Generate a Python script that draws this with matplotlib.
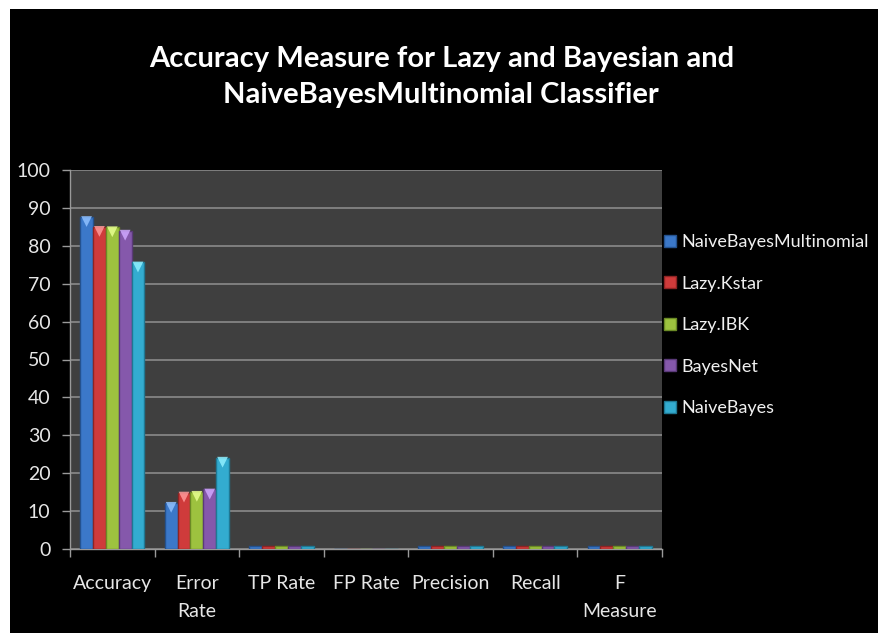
import matplotlib
matplotlib.use("Agg")
import matplotlib.pyplot as plt
import numpy as np
from matplotlib.patches import Rectangle

categories = ["Accuracy", "Error\nRate", "TP Rate", "FP Rate", "Precision", "Recall", "F\nMeasure"]
series_names = ["NaiveBayesMultinomial", "Lazy.Kstar", "Lazy.IBK", "BayesNet", "NaiveBayes"]
nbm = [87.6, 12.2, 0.88, 0.03, 0.88, 0.88, 0.87]
kstar = [85.0, 14.9, 0.85, 0.03, 0.86, 0.85, 0.85]
ibk = [84.9, 15.1, 0.85, 0.03, 0.86, 0.85, 0.85]
bayesnet = [84.0, 15.7, 0.84, 0.03, 0.86, 0.84, 0.84]
naivebayes = [75.6, 24.1, 0.76, 0.05, 0.86, 0.76, 0.77]
yticks = [0, 10, 20, 30, 40, 50, 60, 70, 80, 90, 100]

series = [nbm, kstar, ibk, bayesnet, naivebayes]
colors = ["#3b78c9", "#cf3b3b", "#9dc23f", "#8558ab", "#33acd0"]
edges = ["#24528f", "#8e2424", "#6b8a25", "#5a3a78", "#1f7893"]
lights = ["#8fc0ff", "#ff9a9a", "#e8ff90", "#d0a8ff", "#90f0ff"]

plt.rcParams['font.family'] = ['Lato', 'DejaVu Sans']

W, H = 879, 633
fig = plt.figure(figsize=(W / 100, H / 100), dpi=100, facecolor="white")
fig.patches.append(Rectangle((10 / W, 0), 1 - 10 / W, 1 - 9 / H, transform=fig.transFigure,
                             facecolor="black", edgecolor="none", zorder=-10))

ax = fig.add_axes([70 / W, 1 - 549 / H, (662 - 70) / W, (549 - 170) / H])
ax.set_facecolor("#3f3f3f")

x = np.arange(len(categories))
bw = 0.152
for i, (vals, c, e, l, name) in enumerate(zip(series, colors, edges, lights, series_names)):
    pos = x + (i - 2) * bw
    ax.bar(pos, vals, width=bw, color=c, edgecolor=e, linewidth=1.0, label=name, zorder=3)
    tall = [v for v in vals if v > 5]
    tpos = [p for p, v in zip(pos, vals) if v > 5]
    ax.scatter(tpos, [v - 1.2 for v in tall], marker="v", s=60, color=l, edgecolor="none",
               alpha=0.85, zorder=4)

ax.set_xlim(-0.5, len(categories) - 0.5)
ax.set_ylim(0, 100)
ax.set_yticks(yticks)
ax.set_yticklabels([str(t) for t in yticks])
ax.set_xticks(x)
ax.set_xticklabels(categories, linespacing=1.75)
ax.set_xticks(np.arange(len(categories) + 1) - 0.5, minor=True)
ax.tick_params(axis="x", which="major", length=0, pad=19, labelsize=14, labelcolor="#e6e6e6")
ax.tick_params(axis="x", which="minor", length=6, width=1, color="#9a9a9a", direction="out")
ax.tick_params(axis="y", length=6, width=1, color="#9a9a9a", pad=8, labelsize=14, labelcolor="#e6e6e6")
ax.grid(axis="y", color="#8a8a8a", linewidth=1.2, zorder=0)
ax.set_axisbelow(True)
for s in ["top", "right"]:
    ax.spines[s].set_visible(False)
for s in ["left", "bottom"]:
    ax.spines[s].set_color("#9a9a9a")
    ax.spines[s].set_linewidth(1)

leg = fig.legend(loc="upper left", bbox_to_anchor=(657 / W, 1 - 227 / H), frameon=False,
                 fontsize=13, labelcolor="#f0f0f0", handlelength=0.65, handleheight=0.65,
                 handletextpad=0.3, labelspacing=1.41, borderaxespad=0)

fig.text(0.502, 1 - 77 / H, "Accuracy Measure for Lazy and Bayesian and\nNaiveBayesMultinomial Classifier",
         ha="center", va="center", color="white", fontsize=21, fontweight="bold", linespacing=1.5)

fig.savefig("out.png", dpi=100, facecolor=fig.get_facecolor())
